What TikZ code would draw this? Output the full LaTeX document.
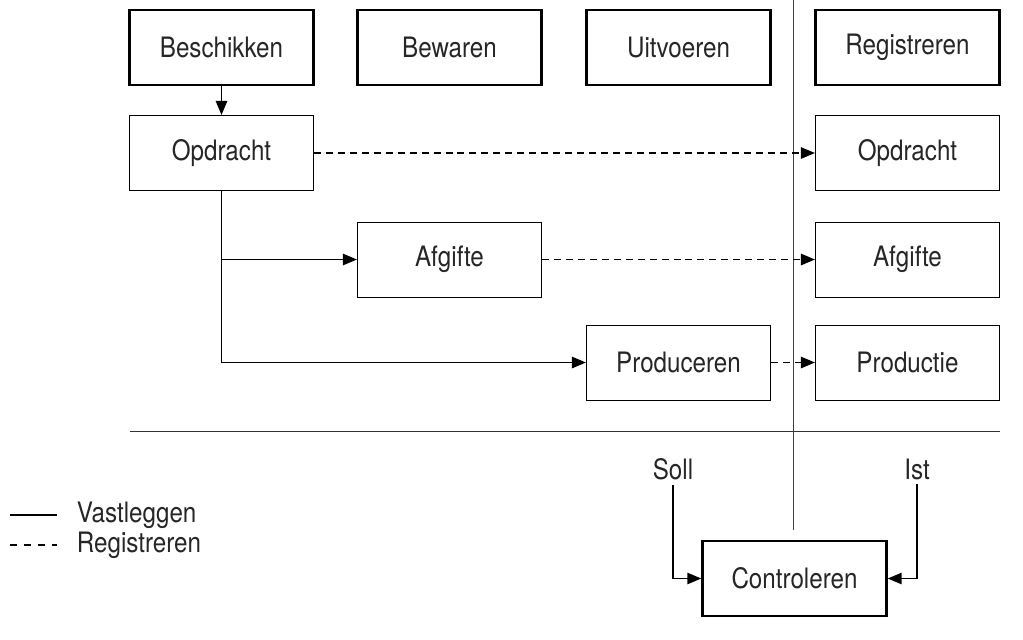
\documentclass[tikz,border=0pt]{standalone}
\usepackage{fontspec}
\setmainfont{TeX Gyre Heros}[FakeStretch=0.86]
\usetikzlibrary{arrows.meta}
\tikzset{
  blok/.style={draw,line width=0.7pt,minimum width=4.6cm,minimum height=1.875cm,inner sep=0pt},
  kop/.style={blok,line width=1.6pt},
  vast/.style={->,line width=1.4pt},
  reg/.style={->,line width=1.4pt,dash pattern=on 5pt off 3.5pt},
}
\begin{document}
\begin{tikzpicture}[x=0.025cm,y=-0.025cm,>={Triangle[length=10pt,width=8pt]},font=\fontsize{20}{24}\selectfont,every node/.style={text=black!85}]
\useasboundingbox (0,0) rectangle (1023,639);
\node[kop] (besch) at (221.5,47.5) {Beschikken};
\node[kop] (bew) at (449.5,47.5) {Bewaren};
\node[kop] (uitv) at (678.5,47.5) {Uitvoeren};
\node[kop] (regk) at (907.5,47.5) {Registreren};

\node[blok] (opdL) at (221.5,153) {Opdracht};
\node[blok] (opdR) at (907.5,153) {Opdracht};
\node[blok] (afgL) at (449.5,259.5) {Afgifte};
\node[blok] (afgR) at (907.5,259.5) {Afgifte};
\node[blok] (prod) at (678.5,362.5) {Produceren};
\node[blok] (prodR) at (907.5,362.5) {Productie};

\draw[line width=0.5pt,black!75] (793,0) -- (793,530);
\draw[line width=0.6pt,black!80] (130,431) -- (1000,431);

\draw[vast] (besch) -- (opdL);
\draw[vast] (opdL.south) |- (afgL.west);
\draw[vast] (opdL.south) |- (prod.west);

\draw[reg] (opdL) -- (opdR);
\draw[reg] (afgL) -- (afgR);
\draw[reg] (prod) -- (prodR);

\node (soll) at (673,469) {Soll};
\node (ist) at (917,469) {Ist};
\node[kop] (ctrl) at (794.5,578.5) {Controleren};
\draw[vast] (soll.south) |- (ctrl.west);
\draw[vast] (ist.south) |- (ctrl.east);

% legenda
\coordinate (va) at (10,515);
\coordinate (vb) at (57,515);
\coordinate (ra) at (10,545);
\coordinate (rb) at (57,545);
\draw[line width=1.3pt] (va) -- (vb);
\draw[line width=1.3pt,dash pattern=on 5pt off 5pt] (ra) -- (rb);
\node[anchor=west] (lvast) at (72,515) {Vastleggen};
\node[anchor=west] (lreg) at (72,545) {Registreren};
\end{tikzpicture}
\end{document}
